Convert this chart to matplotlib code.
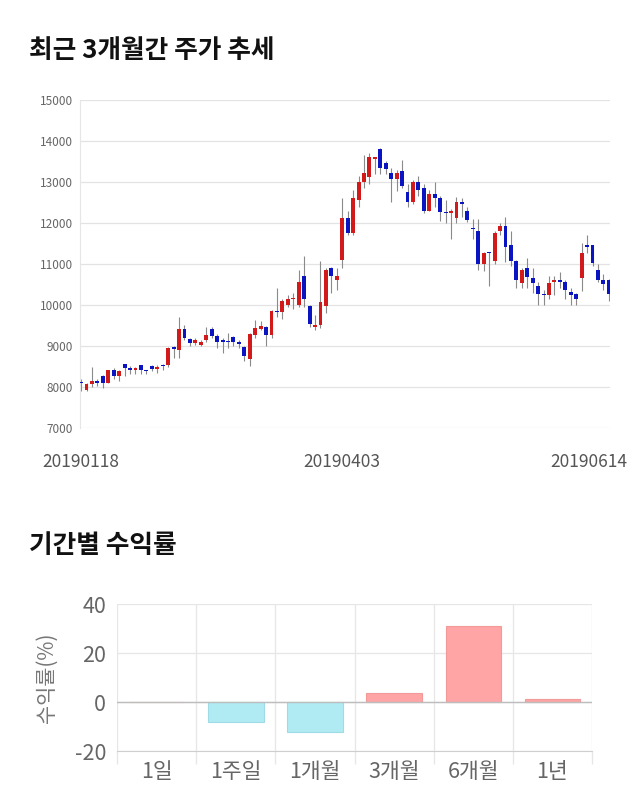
import numpy as np
import matplotlib
matplotlib.use('Agg')
import matplotlib.pyplot as plt
from matplotlib.transforms import ScaledTranslation

plt.rcParams['font.family'] = ['Noto Sans CJK KR', 'DejaVu Sans']
plt.rcParams['axes.unicode_minus'] = False

# daily candles, 20190118 .. 20190614
opens = [8100, 7930, 8070, 8150, 8250, 8100, 8400, 8260, 8550, 8450,
         8400, 8520, 8400, 8510, 8440, 8540, 8540, 8980, 8900, 9410,
         9160, 9070, 9010, 9130, 9420, 9250, 9140, 9100, 9220, 9100,
         8960, 8680, 9270, 9420, 9470, 9260, 9860, 9820, 10000, 10150,
         10000, 10700, 9980, 9450, 9510, 9980, 10900, 10600, 11100, 12120,
         11750, 12560, 13000, 13120, 13560, 13800, 13460, 13220, 13060, 13270,
         12760, 12500, 13010, 12860, 12300, 12710, 12610, 12260, 12250, 12130,
         12510, 12300, 11880, 11800, 11000, 11280, 11060, 11800, 11920, 11460,
         11060, 10540, 10900, 10650, 10450, 10260, 10250, 10550, 10600, 10550,
         10310, 10260, 10650, 11470, 11460, 10850, 10600, 10600]
highs = [8200, 8100, 8470, 8200, 8280, 8420, 8450, 8420, 8560, 8500,
         8480, 8530, 8420, 8530, 8520, 8560, 8960, 8990, 9700, 9500,
         9200, 9200, 9150, 9470, 9450, 9280, 9200, 9300, 9250, 9150,
         8990, 9300, 9630, 9600, 9480, 9870, 10400, 10150, 10250, 10300,
         10850, 11200, 10000, 9750, 11060, 10900, 10920, 10900, 12600, 12300,
         12800, 13150, 13650, 13700, 13620, 13820, 13500, 13350, 13300, 13540,
         12950, 13050, 13150, 12950, 12800, 13000, 12650, 12550, 12350, 12640,
         12600, 12400, 12100, 12100, 11280, 11300, 11800, 12000, 12150, 11800,
         11100, 10900, 11150, 10900, 10550, 10350, 10700, 10700, 10800, 10600,
         10400, 10280, 11500, 11700, 11470, 11000, 10750, 10620]
lows = [7900, 7900, 8000, 8020, 7980, 8090, 8200, 8150, 8250, 8300,
        8300, 8300, 8300, 8380, 8330, 8420, 8480, 8700, 8700, 9150,
        9000, 9030, 8990, 9080, 9200, 8950, 8830, 8950, 9000, 8950,
        8640, 8500, 9200, 9380, 9000, 9200, 9700, 9650, 9950, 9900,
        9950, 9950, 9460, 9380, 9440, 9800, 10300, 10350, 10900, 11700,
        11700, 12400, 12850, 12950, 13200, 13200, 13200, 12520, 12770, 12850,
        12400, 12450, 12650, 12250, 12280, 12400, 12050, 12000, 11600, 12000,
        12150, 12030, 11600, 10850, 10830, 10450, 11000, 11700, 11050, 10950,
        10400, 10400, 10400, 10300, 10000, 9990, 10150, 10250, 10400, 10150,
        10000, 10000, 10330, 11270, 10950, 10550, 10350, 10100]
closes = [8090, 8070, 8140, 8090, 8100, 8400, 8260, 8390, 8450, 8400,
          8450, 8400, 8380, 8440, 8490, 8500, 8950, 8920, 9410, 9200,
          9060, 9140, 9100, 9270, 9250, 9100, 9090, 9090, 9100, 9040,
          8740, 9290, 9440, 9490, 9260, 9850, 9820, 10100, 10150, 10160,
          10560, 10150, 9520, 9510, 10070, 10850, 10700, 10700, 12120, 11750,
          12600, 13000, 13210, 13600, 13600, 13330, 13320, 13060, 13210, 12900,
          12500, 13010, 12800, 12300, 12700, 12600, 12260, 12250, 12300, 12500,
          12460, 12060, 11860, 11000, 11270, 11270, 11750, 11920, 11420, 11060,
          10600, 10850, 10680, 10540, 10260, 10250, 10540, 10600, 10550, 10350,
          10250, 10150, 11270, 11420, 11020, 10600, 10510, 10270]
date_ticks = [0, 48, 97]
date_labels = ['20190118', '20190403', '20190614']

periods = ['1일', '1주일', '1개월', '3개월', '6개월', '1년']
returns = [0.0, -8.3, -12.2, 3.8, 31.2, 1.2]

fig = plt.figure(figsize=(6.4, 8.1), dpi=100)

# ---- candlestick chart
ax = fig.add_axes([0.125, 0.472, 0.828, 0.4045])
o = np.array(opens); h = np.array(highs); l = np.array(lows); c = np.array(closes)
x = np.arange(len(o))
up = c > o
down = c < o
body_col = np.where(up, '#d21a1a', np.where(down, '#0a14c0', '#333333'))
ax.vlines(x, l, h, color='#8a8a8a', linewidth=0.8, zorder=2)
bottom = np.minimum(o, c)
height = np.maximum(np.abs(c - o), 25)
ax.bar(x, height, bottom=bottom, width=0.72, color=body_col, linewidth=0, zorder=3)

ax.set_xlim(-0.2, len(o) - 0.8)
ax.set_ylim(7000, 15000)
ax.set_yticks(range(7000, 15001, 1000))
ax.yaxis.grid(True, color='#e3e3e3', linewidth=0.9)
ax.set_axisbelow(True)
for s in ['top', 'right', 'bottom']:
    ax.spines[s].set_visible(False)
ax.spines['left'].set_color('#e6e6e6')
ax.tick_params(axis='y', length=0, labelsize=8.5, labelcolor='#666666', pad=5)
ax.set_xticks(date_ticks)
ax.set_xticklabels(date_labels)
ax.tick_params(axis='x', length=0, labelsize=12.5, labelcolor='#555555', pad=18)
last = ax.get_xticklabels()[-1]
last.set_transform(last.get_transform() + ScaledTranslation(-0.2, 0, fig.dpi_scale_trans))

fig.text(0.045, 0.938, '최근 3개월간 주가 추세', fontsize=18.5, fontweight='bold',
         va='center', ha='left', color='#111111')
fig.text(0.045, 0.327, '기간별 수익률', fontsize=18.5, fontweight='bold',
         va='center', ha='left', color='#111111')

# ---- period returns
bx = fig.add_axes([0.183, 0.0728, 0.742, 0.1815])
pos = np.arange(len(periods))
bar_col = ['#ffa5a5' if v >= 0 else '#b0ebf4' for v in returns]
edge_col = ['#f29a9a' if v >= 0 else '#9edbe6' for v in returns]
bx.bar(pos, returns, width=0.7, color=bar_col, edgecolor=edge_col, linewidth=0.8, zorder=3)
bx.set_xlim(-0.5, len(periods) - 0.5)
bx.set_ylim(-20, 40)
bx.set_yticks([-20, 0, 20, 40])
bx.yaxis.grid(True, color='#e6e6e6', linewidth=0.9)
bx.axhline(0, color='#bdbdbd', linewidth=1.0, zorder=4)
bx.set_xticks(pos)
bx.set_xticklabels(periods)
bx.set_xticks(np.arange(-0.5, len(periods)), minor=True)
bx.xaxis.grid(True, which='minor', color='#e6e6e6', linewidth=0.9)
bx.tick_params(axis='x', which='major', length=0, labelsize=15.5, labelcolor='#666666', pad=7)
bx.tick_params(axis='x', which='minor', length=9, color='#e6e6e6', width=0.9)
bx.tick_params(axis='y', length=0, labelsize=15.5, labelcolor='#666666', pad=8)
for s in ['top', 'right', 'left']:
    bx.spines[s].set_visible(False)
bx.spines['bottom'].set_color('#cfcfcf')
bx.set_axisbelow(True)
bx.set_ylabel('수익률(%)', fontsize=15, color='#777777', labelpad=12)

fig.savefig('out.png', dpi=100, facecolor='white')
